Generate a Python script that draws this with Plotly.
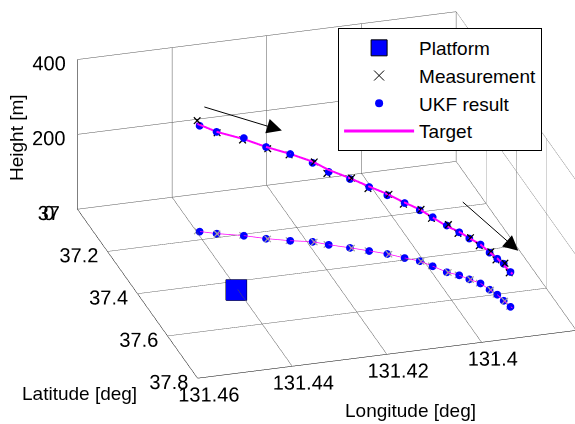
import plotly.graph_objects as go

# ---- data ----
ukf_lon = [131.4394, 131.4364, 131.4314, 131.4275, 131.4231, 131.4189, 131.4162, 131.4125, 131.4092, 131.4061,
           131.4033, 131.4008, 131.3990, 131.3971, 131.3951, 131.3937, 131.3921, 131.3912, 131.3904, 131.3900, 131.3895]
ukf_lat = [37.164, 37.182, 37.206, 37.231, 37.2535, 37.270, 37.292, 37.317, 37.341, 37.364,
           37.391, 37.413, 37.442, 37.476, 37.496, 37.519, 37.543, 37.575, 37.601, 37.631, 37.661]
ukf_h = [283, 272, 261, 245, 232, 211, 195, 184, 171, 157, 147, 136, 131, 125, 115, 109, 104, 99, 96, 99, 93]

meas_lon = [131.4398, 131.4363, 131.4316, 131.4272, 131.4233, 131.4186, 131.4165, 131.4122, 131.4094, 131.4058,
            131.4035, 131.4006, 131.3992, 131.3968, 131.3953, 131.3935, 131.3923, 131.3910, 131.3906, 131.3898, 131.3897]
meas_lat = [37.160, 37.183, 37.204, 37.233, 37.252, 37.272, 37.290, 37.319, 37.339, 37.366,
            37.389, 37.415, 37.440, 37.478, 37.494, 37.521, 37.541, 37.577, 37.599, 37.633, 37.659]
meas_h = [295, 270, 255, 241, 229, 214, 190, 187, 166, 160, 143, 139, 127, 128, 111, 112, 100, 102, 92, 101, 90]

tgt_lon = [131.4400, 131.4364, 131.4314, 131.4275, 131.4231, 131.4189, 131.4162, 131.4125, 131.4092, 131.4061,
           131.4033, 131.4008, 131.3990, 131.3971, 131.3951, 131.3937, 131.3921, 131.3912, 131.3904, 131.3900, 131.3893]
tgt_lat = [37.160, 37.182, 37.206, 37.231, 37.2535, 37.270, 37.292, 37.317, 37.341, 37.364,
           37.391, 37.413, 37.442, 37.476, 37.496, 37.519, 37.543, 37.575, 37.601, 37.631, 37.668]
tgt_h = [288, 272, 258, 245, 232, 214, 200, 186, 172, 160, 148, 138, 130, 123, 116, 110, 104, 100, 97, 95, 91]

platform_lon = [131.4403]
platform_lat = [37.436]
platform_h = [0]

lon_ticks = [131.38, 131.40, 131.42, 131.44, 131.46]
lon_labels = ["", "131.4", "131.42", "131.44", "131.46"]
lat_ticks = [37.0, 37.2, 37.4, 37.6, 37.8]
lat_labels = ["37", "37.2", "37.4", "37.6", "37.8"]
h_ticks = [0, 200, 400]
h_labels = ["0", "200", "400"]

FONT = "Liberation Sans, Arial, sans-serif"
MAG = "#FF00FF"
BLUE = "#0000FF"

fig = go.Figure()

# floor projections (shadows)
fig.add_trace(go.Scatter3d(x=tgt_lon, y=tgt_lat, z=[0] * len(tgt_lon), mode="lines",
                           line=dict(color=MAG, width=1.5), showlegend=False, hoverinfo="skip"))
fig.add_trace(go.Scatter3d(x=meas_lon, y=meas_lat, z=[0] * len(meas_lon), mode="text",
                           text=["×"] * len(meas_lon), textposition="middle center",
                           textfont=dict(family=FONT, size=16, color="#A0A0A0"),
                           showlegend=False, hoverinfo="skip"))
fig.add_trace(go.Scatter3d(x=ukf_lon, y=ukf_lat, z=[0] * len(ukf_lon), mode="markers",
                           marker=dict(color=BLUE, size=4.5, symbol="circle", line=dict(width=0)),
                           showlegend=False, hoverinfo="skip"))

# 3D data traces
fig.add_trace(go.Scatter3d(x=platform_lon, y=platform_lat, z=platform_h, mode="markers", name="Platform",
                           marker=dict(color=BLUE, size=11, symbol="square", line=dict(color="black", width=1)),
                           showlegend=False))
fig.add_trace(go.Scatter3d(x=meas_lon, y=meas_lat, z=meas_h, mode="text", name="Measurement",
                           text=["×"] * len(meas_lon), textposition="middle center",
                           textfont=dict(family=FONT, size=17, color="black"), showlegend=False))
fig.add_trace(go.Scatter3d(x=ukf_lon, y=ukf_lat, z=ukf_h, mode="markers", name="UKF result",
                           marker=dict(color=BLUE, size=4.5, symbol="circle", line=dict(width=0)),
                           showlegend=False))
fig.add_trace(go.Scatter3d(x=tgt_lon, y=tgt_lat, z=tgt_h, mode="lines", name="Target",
                           line=dict(color=MAG, width=4), showlegend=False))

# legend entries (styled like the reference legend)
fig.add_trace(go.Scatter(x=[None], y=[None], mode="markers", name="Platform",
                         marker=dict(symbol="square", size=20, color=BLUE, line=dict(width=1, color="black"))))
fig.add_trace(go.Scatter(x=[None], y=[None], mode="markers", name="Measurement",
                         marker=dict(symbol="x-thin-open", size=10, color="black", line=dict(width=1, color="black"))))
fig.add_trace(go.Scatter(x=[None], y=[None], mode="markers", name="UKF result",
                         marker=dict(symbol="circle", size=8, color=BLUE)))
fig.add_trace(go.Scatter(x=[None], y=[None], mode="lines", name="Target",
                         line=dict(color=MAG, width=3)))

axis_common = dict(showgrid=True, gridcolor="#555555", gridwidth=1, showline=True, linecolor="black",
                   linewidth=1, zeroline=False, showbackground=False, showspikes=False,
                   ticks="outside", tickcolor="rgba(0,0,0,0)", tickangle=0,
                   tickfont=dict(family=FONT, size=15.5, color="black"), title=dict(text=""))

S = 1.865
C = dict(x=0.1875, y=-0.021, z=-0.073)
fig.update_layout(
    width=575, height=424,
    margin=dict(l=0, r=0, t=0, b=0),
    paper_bgcolor="white",
    plot_bgcolor="white",
    font=dict(family=FONT, size=19, color="black"),
    xaxis=dict(visible=False),
    yaxis=dict(visible=False),
    scene=dict(
        domain=dict(x=[0.0, 1.0], y=[0.0, 1.0]),
        xaxis=dict(axis_common, range=[131.38, 131.46], tickvals=lon_ticks, ticktext=lon_labels, ticklen=12),
        yaxis=dict(axis_common, range=[37.0, 37.8], tickvals=lat_ticks, ticktext=lat_labels, ticklen=22),
        zaxis=dict(axis_common, range=[0, 400], tickvals=h_ticks, ticktext=h_labels, ticklen=8),
        aspectmode="manual",
        aspectratio=dict(x=1.0 * S, y=1.0585 * S, z=0.4175 * S),
        camera=dict(eye=dict(x=0.2603 * 2 + C["x"], y=0.8687 * 2 + C["y"], z=0.4216 * 2 + C["z"]),
                    up=dict(x=0, y=0, z=1), center=C,
                    projection=dict(type="orthographic")),
        annotations=[
            dict(x=131.425, y=37.258, z=300, text="", showarrow=True, arrowhead=2, arrowsize=3,
                 arrowwidth=1, arrowcolor="black", ax=-79, ay=-24),
            dict(x=131.388, y=37.666, z=150, text="", showarrow=True, arrowhead=2, arrowsize=3,
                 arrowwidth=1, arrowcolor="black", ax=-57, ay=-50),
        ],
    ),
    legend=dict(x=0.588, y=0.934, xanchor="left", yanchor="top", bgcolor="white",
                bordercolor="black", borderwidth=1, font=dict(family=FONT, size=19, color="black"),
                itemsizing="trace", itemwidth=70),
    annotations=[
        dict(text="Height [m]", x=16 / 575, y=1 - 138 / 424, xref="paper", yref="paper",
             xanchor="center", yanchor="middle", showarrow=False, textangle=-90, font=dict(size=19)),
        dict(text="Latitude [deg]", x=79 / 575, y=1 - 393 / 424, xref="paper", yref="paper",
             xanchor="center", yanchor="middle", showarrow=False, font=dict(size=19)),
        dict(text="Longitude [deg]", x=410 / 575, y=1 - 410 / 424, xref="paper", yref="paper",
             xanchor="center", yanchor="middle", showarrow=False, font=dict(size=19)),
    ],
)

fig.write_html("out.html")
